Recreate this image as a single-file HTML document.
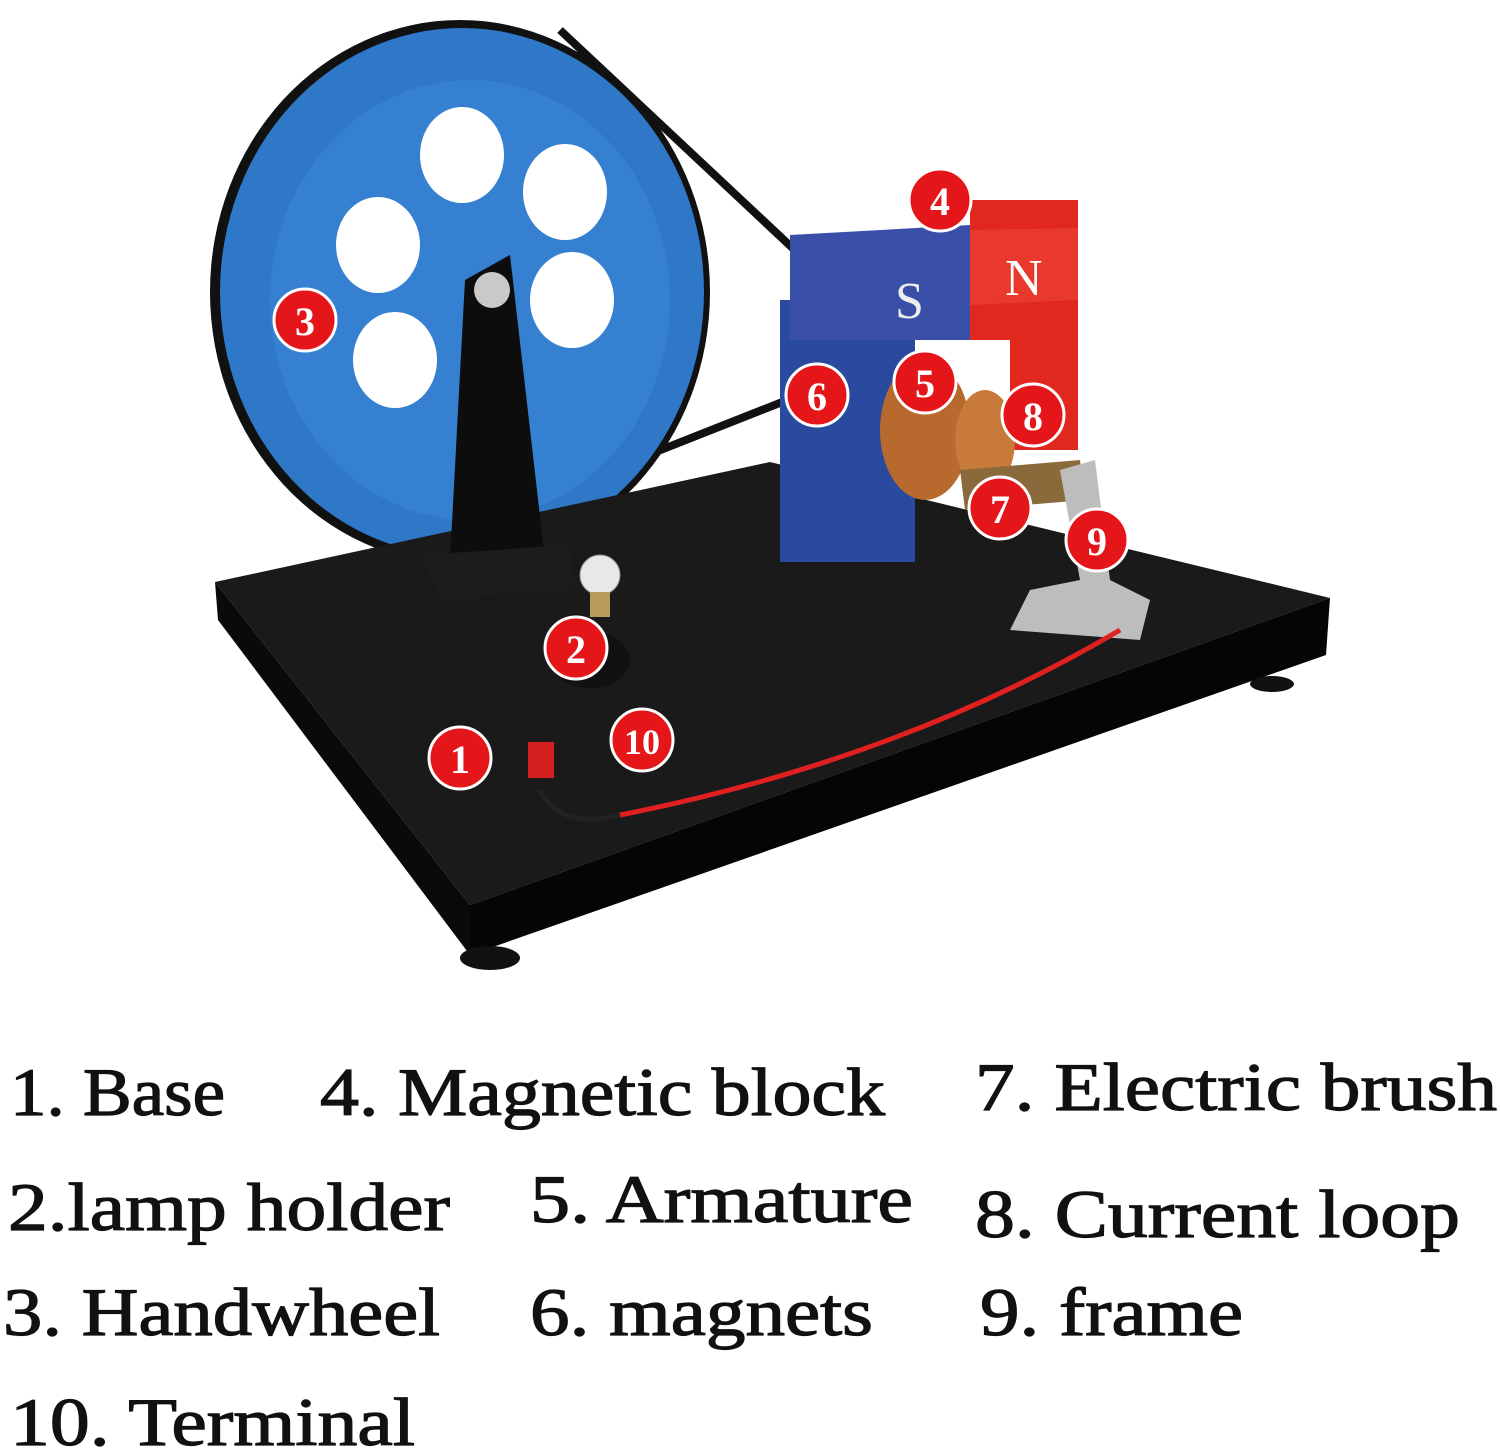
<!DOCTYPE html>
<html><head><meta charset="utf-8"><style>
html,body{margin:0;padding:0;background:#fff}
svg{display:block}
text{font-family:"Liberation Serif",serif}
</style></head><body>
<svg width="1500" height="1452" viewBox="0 0 1500 1452" xmlns="http://www.w3.org/2000/svg">
<rect width="1500" height="1452" fill="#fff"/>
<!-- belt -->
<path d="M560 30 L800 255" stroke="#111" stroke-width="8" fill="none"/>
<path d="M610 470 L800 395" stroke="#111" stroke-width="8" fill="none"/>
<!-- wheel -->
<ellipse cx="460" cy="292" rx="250" ry="272" fill="#111"/>
<ellipse cx="462" cy="292" rx="242" ry="264" fill="#2f78c8"/>
<ellipse cx="470" cy="300" rx="200" ry="220" fill="#3a86d6" opacity="0.6"/>
<ellipse cx="462" cy="155" rx="42" ry="48" fill="#fff"/>
<ellipse cx="565" cy="192" rx="42" ry="48" fill="#fff"/>
<ellipse cx="378" cy="245" rx="42" ry="48" fill="#fff"/>
<ellipse cx="572" cy="300" rx="42" ry="48" fill="#fff"/>
<ellipse cx="395" cy="360" rx="42" ry="48" fill="#fff"/>
<!-- base -->
<polygon points="215,582 770,462 1330,598 470,905" fill="#1a1a1a"/>
<polygon points="215,582 470,905 470,955 218,620" fill="#0a0a0a"/>
<polygon points="470,905 1330,598 1326,655 470,955" fill="#050505"/>
<ellipse cx="490" cy="958" rx="30" ry="12" fill="#111"/>
<ellipse cx="1272" cy="684" rx="22" ry="8" fill="#111"/>
<!-- stand -->
<polygon points="465,280 510,255 545,560 570,580 430,585 450,560" fill="#0d0d0d"/>
<polygon points="420,555 570,545 575,590 440,600" fill="#1c1c1c"/>
<circle cx="492" cy="290" r="18" fill="#c9c9c9"/>
<!-- lamp -->
<ellipse cx="590" cy="660" rx="40" ry="28" fill="#111"/>
<circle cx="600" cy="575" r="20" fill="#e8e8e8" stroke="#999"/>
<rect x="590" y="592" width="20" height="25" fill="#b89a5a"/>
<!-- magnet -->
<rect x="780" y="300" width="135" height="262" fill="#2a4aa0"/>
<polygon points="790,235 970,225 970,340 790,340" fill="#3a4fa8"/>
<polygon points="970,200 1078,200 1078,450 1010,450 1010,340 970,340" fill="#e0281e"/>
<polygon points="970,230 1078,228 1078,300 970,305" fill="#e8392c"/>
<text x="895" y="318" font-size="52" fill="#eee" font-family="Liberation Sans,sans-serif">S</text>
<text x="1005" y="295" font-size="52" fill="#fff" font-family="Liberation Sans,sans-serif">N</text>
<!-- coil -->
<ellipse cx="925" cy="430" rx="45" ry="70" fill="#b86a2e"/>
<ellipse cx="985" cy="440" rx="30" ry="50" fill="#c77a3a"/>
<polygon points="960,470 1080,460 1085,500 965,510" fill="#8a6a3a"/>
<!-- frame -->
<polygon points="1060,470 1095,460 1110,580 1150,600 1140,640 1010,630 1030,590 1080,580" fill="#bdbdbd"/>
<!-- wire -->
<path d="M620 815 Q900 760 1120 630" stroke="#e02020" stroke-width="5" fill="none"/>
<path d="M540 790 Q560 830 620 815" stroke="#222" stroke-width="5" fill="none"/>
<rect x="528" y="742" width="26" height="36" fill="#d42020"/>
<!-- labels -->
<g font-family="Liberation Sans,sans-serif" font-weight="bold" fill="#fff" font-size="40" text-anchor="middle">
<g stroke="#fff" stroke-width="3" fill="#e5161a">
<circle cx="460" cy="758" r="31"/><circle cx="576" cy="648" r="31"/><circle cx="305" cy="320" r="31"/>
<circle cx="940" cy="200" r="31"/><circle cx="925" cy="382" r="31"/><circle cx="817" cy="395" r="31"/>
<circle cx="1000" cy="508" r="31"/><circle cx="1033" cy="415" r="31"/><circle cx="1097" cy="540" r="31"/>
<circle cx="642" cy="740" r="31"/>
</g>
<text x="460" y="773">1</text><text x="576" y="663">2</text><text x="305" y="335">3</text>
<text x="940" y="215">4</text><text x="925" y="397">5</text><text x="817" y="410">6</text>
<text x="1000" y="523">7</text><text x="1033" y="430">8</text><text x="1097" y="555">9</text>
<text x="642" y="754" font-size="36">10</text>
</g>
<!-- legend -->
<g font-size="68" fill="#111" stroke="#111" stroke-width="1.2">
<text x="10" y="1115" textLength="215" lengthAdjust="spacingAndGlyphs">1. Base</text>
<text x="320" y="1115" textLength="565" lengthAdjust="spacingAndGlyphs">4. Magnetic block</text>
<text x="975" y="1110" textLength="522" lengthAdjust="spacingAndGlyphs">7. Electric brush</text>
<text x="8" y="1230" textLength="442" lengthAdjust="spacingAndGlyphs">2.lamp holder</text>
<text x="530" y="1222" textLength="383" lengthAdjust="spacingAndGlyphs">5. Armature</text>
<text x="975" y="1237" textLength="485" lengthAdjust="spacingAndGlyphs">8. Current loop</text>
<text x="3" y="1335" textLength="437" lengthAdjust="spacingAndGlyphs">3. Handwheel</text>
<text x="530" y="1335" textLength="343" lengthAdjust="spacingAndGlyphs">6. magnets</text>
<text x="980" y="1335" textLength="263" lengthAdjust="spacingAndGlyphs">9. frame</text>
<text x="10" y="1445" textLength="405" lengthAdjust="spacingAndGlyphs">10. Terminal</text>
</g>
</svg>
</body></html>
